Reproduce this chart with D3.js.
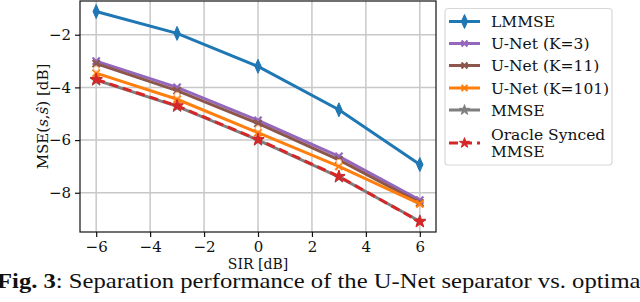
<!DOCTYPE html>
<html><head><meta charset="utf-8">
<script src="https://cdn.jsdelivr.net/npm/d3@7"></script>
<style>body{margin:0;background:#fff;} svg{display:block;}</style>
</head><body>
<svg id="c" width="640" height="302"></svg>
<script>
const sir = [-6, -3, 0, 3, 6];
const lmmse = [-1.12, -1.95, -3.2, -4.85, -6.93];
const unetK3 = [-3.0, -4.0, -5.25, -6.62, -8.28];
const unetK11 = [-3.1, -4.12, -5.37, -6.75, -8.38];
const unetK101 = [-3.46, -4.45, -5.72, -7.0, -8.42];
const mmse = [-3.72, -4.72, -6.0, -7.4, -9.08];
const oracle = [-3.7, -4.7, -5.98, -7.38, -9.1];
const xTicks = [-6, -4, -2, 0, 2, 4, 6];
const yTicks = [-2, -4, -6, -8];
const legendLabels = ["LMMSE", "U-Net (K=3)", "U-Net (K=11)", "U-Net (K=101)", "MMSE", "Oracle Synced\nMMSE"];

const series = [
  {name: legendLabels[0], v: lmmse, color: "#1f77b4", marker: "diamond", dash: null},
  {name: legendLabels[1], v: unetK3, color: "#9467bd", marker: "x", dash: null},
  {name: legendLabels[2], v: unetK11, color: "#8c564b", marker: "x", dash: null},
  {name: legendLabels[3], v: unetK101, color: "#ff7f0e", marker: "x", dash: null},
  {name: legendLabels[4], v: mmse, color: "#7f7f7f", marker: "star", dash: null},
  {name: legendLabels[5], v: oracle, color: "#d62728", marker: "star", dash: "9,5"}
];

const svg = d3.select("#c");
const L = 80, R = 436, T = 1, B = 232;
const x = d3.scaleLinear().domain([-6.6, 6.6]).range([L, R]);
const y = d3.scaleLinear().domain([-9.49, -0.72]).range([B, T]);
const font = "DejaVu Serif, serif";

// grid
const g = svg.append("g");
g.selectAll(".gx").data(xTicks).enter().append("line")
  .attr("x1", d => x(d)).attr("x2", d => x(d)).attr("y1", T).attr("y2", B)
  .attr("stroke", "#c8c8c8").attr("stroke-width", 1.5);
g.selectAll(".gy").data(yTicks).enter().append("line")
  .attr("y1", d => y(d)).attr("y2", d => y(d)).attr("x1", L).attr("x2", R)
  .attr("stroke", "#c8c8c8").attr("stroke-width", 1.5);

// axes
const xAxis = d3.axisBottom(x).tickValues(xTicks).tickSize(5).tickPadding(4)
  .tickFormat(d => (d < 0 ? "\u2212" : "") + Math.abs(d));
const yAxis = d3.axisLeft(y).tickValues(yTicks).tickSize(5).tickPadding(4)
  .tickFormat(d => (d < 0 ? "\u2212" : "") + Math.abs(d));
const ax = svg.append("g").attr("transform", `translate(0,${B})`).call(xAxis);
const ay = svg.append("g").attr("transform", `translate(${L},0)`).call(yAxis);
[ax, ay].forEach(a => {
  a.select(".domain").remove();
  a.selectAll("text").attr("font-family", font).attr("font-size", 15).attr("fill", "#111");
  a.selectAll("line").attr("stroke", "#111").attr("stroke-width", 1.2);
});

// frame
svg.append("rect").attr("x", L).attr("y", T).attr("width", R - L).attr("height", B - T)
  .attr("fill", "none").attr("stroke", "#111").attr("stroke-width", 1.2);

// labels
svg.append("text").attr("x", x(0)).attr("y", 269).attr("text-anchor", "middle")
  .attr("font-family", font).attr("font-size", 14).attr("fill", "#111").text("SIR [dB]");
const yl = svg.append("text").attr("transform", `translate(48,${(T + B) / 2}) rotate(-90)`)
  .attr("text-anchor", "middle").attr("font-family", font).attr("font-size", 15).attr("fill", "#111");
yl.append("tspan").text("MSE(");
yl.append("tspan").attr("font-style", "italic").text("s");
yl.append("tspan").text(",");
yl.append("tspan").attr("font-style", "italic").text("\u015D");
yl.append("tspan").text(") [dB]");

// marker drawing
function drawMarker(sel, type, color, size) {
  if (type === "diamond") {
    sel.append("path").attr("d", `M0,${-size}L${size * 0.45},0L0,${size}L${-size * 0.45},0Z`)
      .attr("fill", color).attr("stroke", color).attr("stroke-width", 1);
  } else if (type === "x") {
    const s = size * 0.6;
    sel.append("path").attr("d", `M${-s},${-s}L${s},${s}M${-s},${s}L${s},${-s}`)
      .attr("stroke", color).attr("stroke-width", 2.2).attr("fill", "none");
  } else if (type === "star") {
    sel.append("path").attr("d", d3.symbol().type(d3.symbolStar).size(size * size * 1.3)())
      .attr("fill", color).attr("stroke", color).attr("stroke-width", 1);
  }
}

const line = d3.line().x((d, i) => x(sir[i])).y(d => y(d));
const plot = svg.append("g");
series.forEach((s, si) => {
  plot.append("path").datum(s.v).attr("d", line).attr("fill", "none")
    .attr("stroke", s.color).attr("stroke-width", 3)
    .attr("stroke-dasharray", s.dash);
  s.v.forEach((v, i) => {
    const m = plot.append("g").attr("transform", `translate(${x(sir[i])},${y(v)})`);
    drawMarker(m, s.marker, s.color, s.marker === "diamond" ? 7 : 6);
    if (si === 3 && i < 4) {
      m.append("circle").attr("cx", 0).attr("cy", -4.5).attr("r", 2.6)
        .attr("fill", "#fff").attr("stroke", "#ffb070").attr("stroke-width", 1);
    }
  });
});

// legend
const lg = svg.append("g");
lg.append("rect").attr("x", 445).attr("y", 8.5).attr("width", 167).attr("height", 156.5)
  .attr("rx", 3).attr("fill", "#fff").attr("stroke", "#d8d8d8").attr("stroke-width", 1.2);
const rowY = [21.5, 43.5, 65.5, 88, 110, 143];
series.forEach((s, i) => {
  const ry = rowY[i];
  lg.append("line").attr("x1", 449).attr("x2", 480).attr("y1", ry).attr("y2", ry)
    .attr("stroke", s.color).attr("stroke-width", 3).attr("stroke-dasharray", s.dash);
  const m = lg.append("g").attr("transform", `translate(464.5,${ry})`);
  drawMarker(m, s.marker, s.color, s.marker === "diamond" ? 7 : 5);
  const lines = s.name.split("\n");
  const t = lg.append("text").attr("font-family", font).attr("font-size", 15.5).attr("fill", "#111");
  lines.forEach((ln, k) => {
    t.append("tspan").attr("x", 491).attr("y", ry + 5.5 + (lines.length > 1 ? (k - 0.5) * 17 : 0)).text(ln);
  });
});

// caption
const cap = svg.append("text").attr("transform", "translate(-3,288) scale(1.12,1)")
  .attr("font-family", "Liberation Serif, Times New Roman, serif").attr("font-size", 22).attr("fill", "#111");
cap.append("tspan").attr("font-weight", "bold").text("Fig. 3");
cap.append("tspan").text(": Separation performance of the U-Net separator vs. optimal");
</script>
</body></html>
